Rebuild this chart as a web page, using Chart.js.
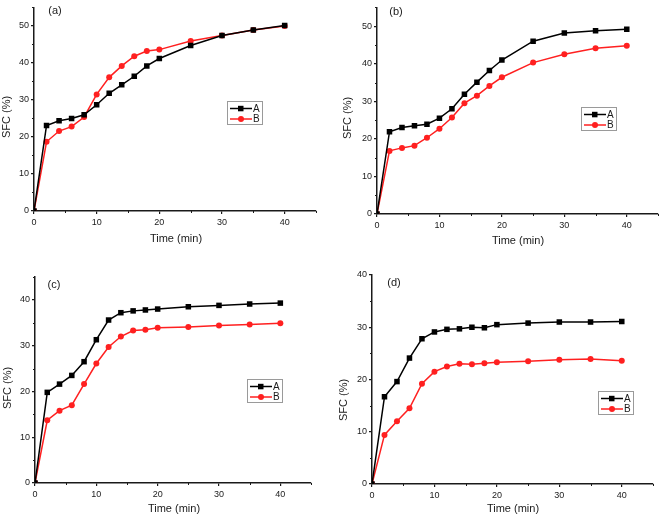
<!DOCTYPE html>
<html>
<head>
<meta charset="utf-8">
<script src="https://cdn.jsdelivr.net/npm/chart.js@4"></script>
<style>
  body { margin: 0; background: #fff; }
  #wrap { position: relative; width: 662px; height: 520px; }
  canvas { position: absolute; }
</style>
</head>
<body>
<div id="wrap">
  <canvas id="pa" width="331" height="260" style="left:0;top:0"></canvas>
  <canvas id="pb" width="331" height="260" style="left:331px;top:0"></canvas>
  <canvas id="pc" width="331" height="260" style="left:0;top:260px"></canvas>
  <canvas id="pd" width="331" height="260" style="left:331px;top:260px"></canvas>
</div>
<script>
const time = [0, 2, 4, 6, 8, 10, 12, 14, 16, 18, 20, 25, 30, 35, 40];

const aA = [0, 23.1, 24.4, 25.0, 26.0, 28.7, 31.8, 34.1, 36.4, 39.2, 41.2, 44.7, 47.4, 48.9, 50.1];
const aB = [0, 18.7, 21.6, 22.8, 25.4, 31.5, 36.1, 39.2, 41.8, 43.2, 43.6, 45.9, 47.4, 48.9, 50.0];

const bA = [0, 21.9, 23.0, 23.5, 23.9, 25.5, 28.0, 31.9, 35.1, 38.2, 41.0, 46.0, 48.2, 48.8, 49.2];
const bB = [0, 16.8, 17.6, 18.2, 20.3, 22.7, 25.7, 29.5, 31.5, 34.1, 36.4, 40.3, 42.5, 44.1, 44.8];

const cA = [0, 19.8, 21.6, 23.5, 26.5, 31.3, 35.6, 37.2, 37.6, 37.8, 38.0, 38.5, 38.8, 39.1, 39.3];
const cB = [0, 13.7, 15.8, 17.0, 21.6, 26.1, 29.7, 32.0, 33.3, 33.5, 33.9, 34.1, 34.4, 34.6, 34.9];

const dA = [0, 16.7, 19.6, 24.1, 27.8, 29.1, 29.6, 29.7, 30.0, 29.9, 30.5, 30.8, 31.0, 31.0, 31.1];
const dB = [0, 9.4, 12.0, 14.5, 19.2, 21.5, 22.5, 23.0, 22.9, 23.1, 23.3, 23.5, 23.8, 23.9, 23.6];

const seriesNames = ['A', 'B'];
const xTitle = 'Time (min)';
const yTitle = 'SFC (%)';

const FONT = "'Liberation Sans', Arial, sans-serif";
const INK = '#1a1a1a';
const RED = '#ff2020';

// minor ticks, panel letter, legend box, axis titles
const decor = {
    id: 'decor',
    afterDraw(chart, args, o) {
        const ctx = chart.ctx;
        const xs = chart.scales.x, ys = chart.scales.y;
        ctx.save();
        ctx.strokeStyle = INK;
        ctx.lineWidth = 1;
        ctx.beginPath();
        for (let v = 5; v <= xs.max; v += 10) {
            const px = Math.round(xs.getPixelForValue(v)) + 0.5;
            ctx.moveTo(px, xs.top);
            ctx.lineTo(px, xs.top + 2);
        }
        for (let v = 5; v <= ys.max; v += 10) {
            const py = Math.round(ys.getPixelForValue(v)) + 0.5;
            ctx.moveTo(ys.right, py);
            ctx.lineTo(ys.right - 2, py);
        }
        ctx.stroke();

        ctx.fillStyle = INK;
        ctx.textAlign = 'center';
        ctx.textBaseline = 'middle';
        ctx.font = '11px ' + FONT;
        ctx.fillText(o.tag, o.tagPos[0], o.tagPos[1]);
        ctx.fillText(xTitle, o.xt[0], o.xt[1]);
        ctx.save();
        ctx.translate(o.yt[0], o.yt[1]);
        ctx.rotate(-Math.PI / 2);
        ctx.fillText(yTitle, 0, 0);
        ctx.restore();

        // legend
        const [lx, ly] = o.legend;
        ctx.strokeStyle = '#9a9a9a';
        ctx.lineWidth = 1;
        ctx.strokeRect(lx + 0.5, ly + 0.5, 35, 23);
        ctx.font = '10px ' + FONT;
        ctx.textAlign = 'left';
        chart.data.datasets.forEach((ds, i) => {
            const ry = ly + 7.5 + i * 10.5;
            ctx.strokeStyle = ds.borderColor;
            ctx.lineWidth = 1.5;
            ctx.beginPath();
            ctx.moveTo(lx + 3, ry);
            ctx.lineTo(lx + 25, ry);
            ctx.stroke();
            ctx.fillStyle = ds.borderColor;
            if (ds.pointStyle === 'rect') {
                ctx.fillRect(lx + 11, ry - 2.7, 5.5, 5.5);
            } else {
                ctx.beginPath();
                ctx.arc(lx + 14, ry, 3, 0, Math.PI * 2);
                ctx.fill();
            }
            ctx.fillStyle = INK;
            ctx.fillText(ds.label, lx + 26, ry + 0.5);
        });
        ctx.restore();
    }
};

function makeChart(id, a, b, yMax, lay) {
    const axisBase = {
        type: 'linear',
        min: 0,
        border: { display: true, color: INK, width: 1.5 },
        grid: { drawOnChartArea: false, drawTicks: true, tickLength: 3, color: INK, lineWidth: 1.2 },
    };
    new Chart(document.getElementById(id), {
        type: 'line',
        data: {
            datasets: [
                {
                    label: seriesNames[0],
                    data: time.map((t, i) => ({ x: t, y: a[i] })),
                    borderColor: '#000',
                    backgroundColor: '#000',
                    borderWidth: 1.5,
                    pointStyle: 'rect',
                    pointRadius: 3.9,
                    pointBorderWidth: 0,
                },
                {
                    label: seriesNames[1],
                    data: time.map((t, i) => ({ x: t, y: b[i] })),
                    borderColor: RED,
                    backgroundColor: RED,
                    borderWidth: 1.5,
                    pointStyle: 'circle',
                    pointRadius: 3,
                    pointBorderWidth: 0,
                },
            ],
        },
        options: {
            responsive: false,
            animation: false,
            layout: { padding: { left: 0, top: lay.top, right: lay.right, bottom: 0 } },
            plugins: {
                legend: { display: false },
                tooltip: { enabled: false },
                decor: lay,
            },
            scales: {
                x: {
                    ...axisBase,
                    max: 45,
                    afterFit(s) { s.height = lay.xh; },
                    ticks: { stepSize: 10, includeBounds: false, padding: 3, color: INK, font: { family: FONT, size: 9 } },
                },
                y: {
                    ...axisBase,
                    max: yMax,
                    afterFit(s) { s.width = lay.yw; },
                    ticks: { stepSize: 10, includeBounds: false, padding: 2, color: INK, font: { family: FONT, size: 9 } },
                },
            },
        },
        plugins: [decor],
    });
}

makeChart('pa', aA, aB, 55, {
    top: 2, right: 15, xh: 49, yw: 34,
    tag: '(a)', tagPos: [55, 11], xt: [176, 239], yt: [7, 117], legend: [227, 101],
});
makeChart('pb', bA, bB, 55, {
    top: 4, right: 3, xh: 46, yw: 46,
    tag: '(b)', tagPos: [65, 12], xt: [187, 241], yt: [17, 118], legend: [250, 107],
});
makeChart('pc', cA, cB, 45, {
    top: 17, right: 20, xh: 37, yw: 35,
    tag: '(c)', tagPos: [54, 25], xt: [174, 249], yt: [8, 128], legend: [247, 119],
});
makeChart('pd', dA, dB, 40, {
    top: 15, right: 9, xh: 36, yw: 41,
    tag: '(d)', tagPos: [63, 23], xt: [182, 249], yt: [13, 140], legend: [267, 131],
});
</script>
</body>
</html>
